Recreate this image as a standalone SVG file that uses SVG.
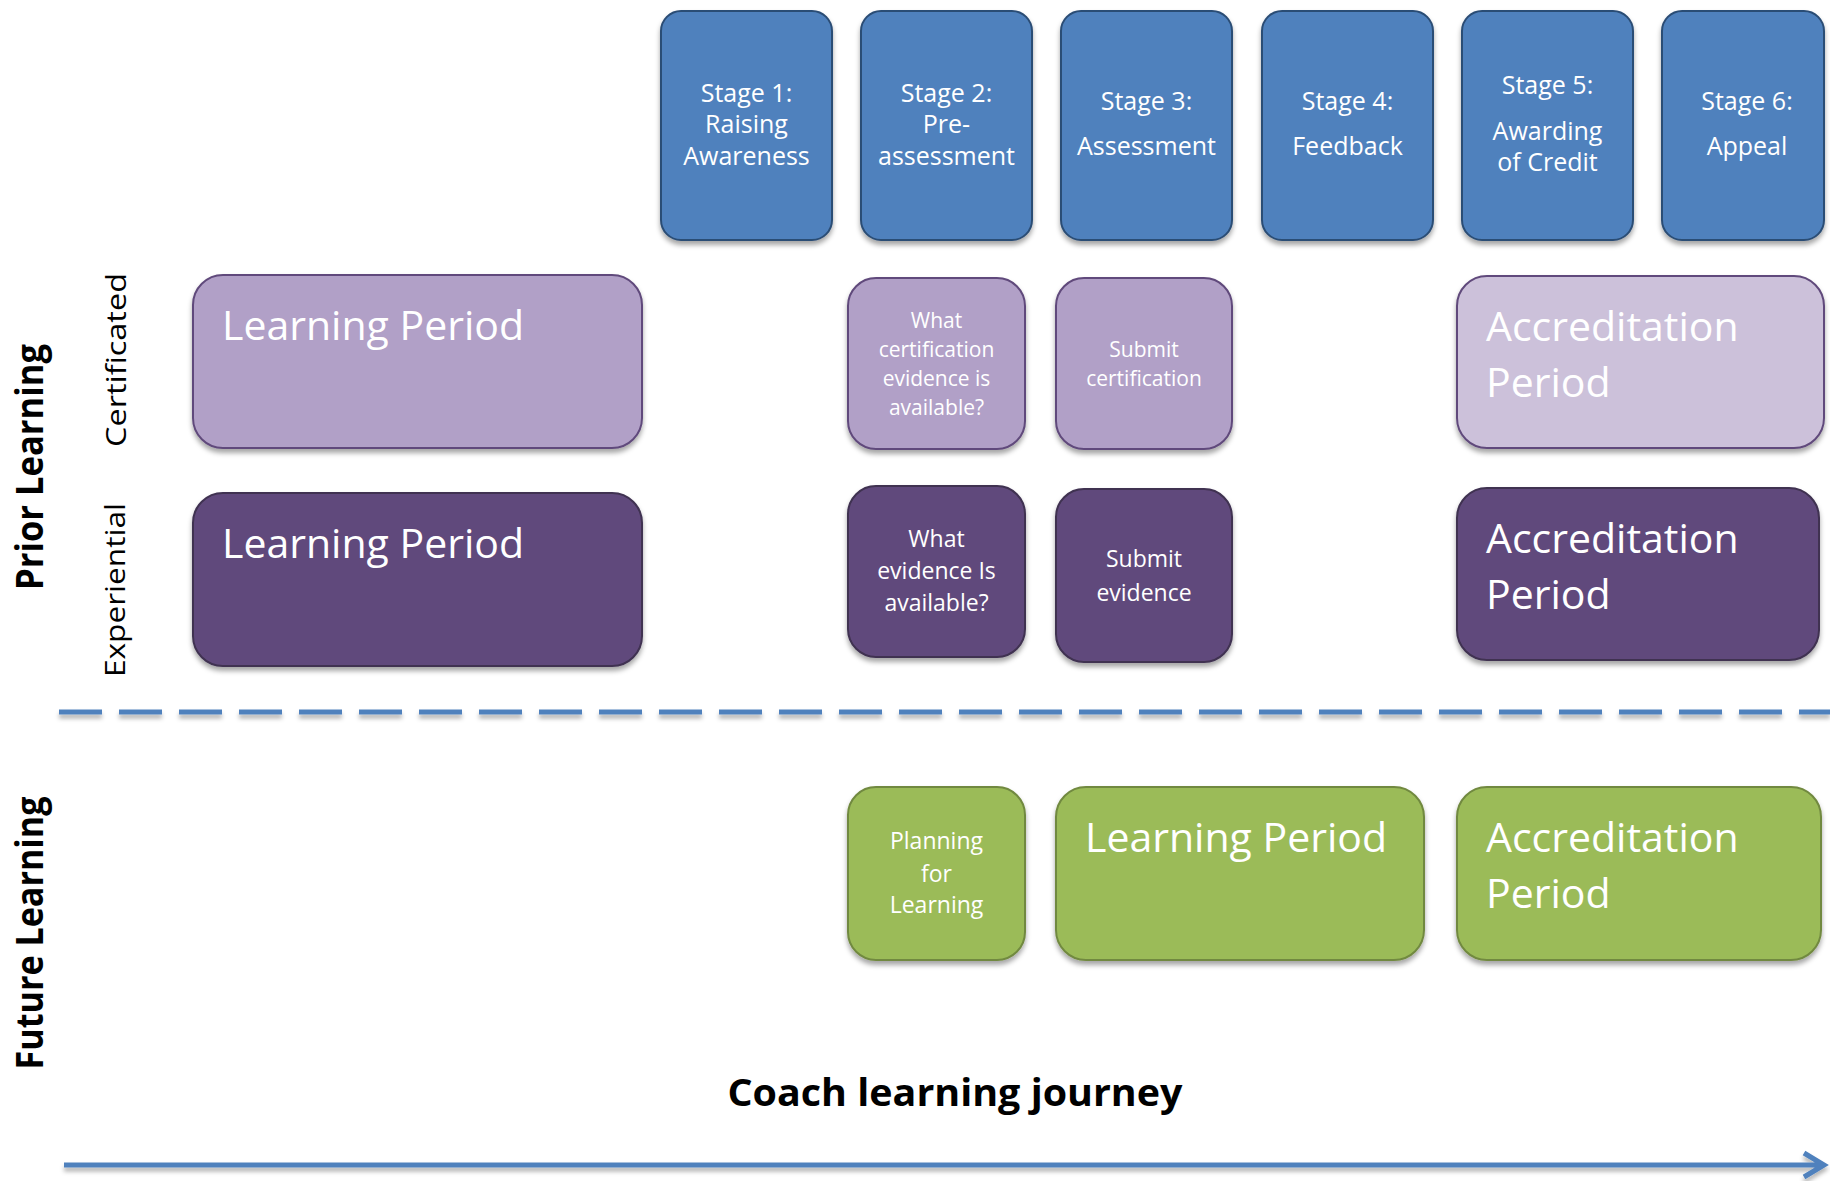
<svg xmlns="http://www.w3.org/2000/svg" width="1830" height="1181" viewBox="0 0 1830 1181">
<defs>
<filter id="sh" x="-10%" y="-10%" width="120%" height="130%">
<feDropShadow dx="0" dy="4" stdDeviation="2.5" flood-color="#000" flood-opacity="0.35"/>
</filter>
<filter id="shl" filterUnits="userSpaceOnUse" x="0" y="0" width="1830" height="1181">
<feDropShadow dx="0" dy="4" stdDeviation="2" flood-color="#000" flood-opacity="0.3"/>
</filter>
<style>
.stage{fill:#4F81BD;stroke:#2C4D75;stroke-width:2;filter:url(#sh)}
.lp{fill:#B1A0C7;stroke:#604A7B;stroke-width:2;filter:url(#sh)}
.lav{fill:#CCC1DA;stroke:#604A7B;stroke-width:2;filter:url(#sh)}
.dp{fill:#604A7B;stroke:#3F3151;stroke-width:2;filter:url(#sh)}
.gr{fill:#9BBB59;stroke:#71893F;stroke-width:2;filter:url(#sh)}
text{font-family:"Open Sans","Noto Sans",sans-serif;fill:#fff}
.st{font-size:25px;text-anchor:middle}
.big{font-size:41px}
.sm{font-size:21px;text-anchor:middle}
.md{font-size:23px;text-anchor:middle}
.lab{fill:#000;font-size:28px}
.bold{fill:#000;font-weight:bold;font-size:37px}
.line{fill:none;stroke:#4F81BD;stroke-width:5;filter:url(#shl)}
</style>
</defs>
<rect width="1830" height="1181" fill="#fff"/>

<g id="connectors">
<line class="line" x1="59" y1="712" x2="1830" y2="712" stroke-dasharray="43 17"/>
<path class="line" d="M64,1165 H1822 M1804,1153 L1824,1165 L1804,1177" stroke-linejoin="miter"/>
</g>

<g id="stage1"><rect class="stage" x="661" y="11" width="171" height="229" rx="20"/>
<text class="st" x="746.5" y="102">Stage 1:</text><text class="st" x="746.5" y="133">Raising</text><text class="st" x="746.5" y="165">Awareness</text></g>
<g id="stage2"><rect class="stage" x="861" y="11" width="171" height="229" rx="20"/>
<text class="st" x="946.5" y="102">Stage 2:</text><text class="st" x="946.5" y="133">Pre-</text><text class="st" x="946.5" y="165">assessment</text></g>
<g id="stage3"><rect class="stage" x="1061" y="11" width="171" height="229" rx="20"/>
<text class="st" x="1146.5" y="110">Stage 3:</text><text class="st" x="1146.5" y="155">Assessment</text></g>
<g id="stage4"><rect class="stage" x="1262" y="11" width="171" height="229" rx="20"/>
<text class="st" x="1347.5" y="110">Stage 4:</text><text class="st" x="1347.5" y="155">Feedback</text></g>
<g id="stage5"><rect class="stage" x="1462" y="11" width="171" height="229" rx="20"/>
<text class="st" x="1547.5" y="94">Stage 5:</text><text class="st" x="1547.5" y="140">Awarding</text><text class="st" x="1547.5" y="171">of Credit</text></g>
<g id="stage6"><rect class="stage" x="1662" y="11" width="162" height="229" rx="20"/>
<text class="st" x="1747" y="110">Stage 6:</text><text class="st" x="1747" y="155">Appeal</text></g>

<g id="label-prior"><text class="bold" transform="translate(43,467) rotate(-90)" text-anchor="middle" textLength="246" lengthAdjust="spacingAndGlyphs">Prior Learning</text></g>
<g id="label-future"><text class="bold" transform="translate(43,933) rotate(-90)" text-anchor="middle" textLength="273" lengthAdjust="spacingAndGlyphs">Future Learning</text></g>
<g id="label-cert"><text class="lab" transform="translate(126,360) rotate(-90)" text-anchor="middle" textLength="174" lengthAdjust="spacingAndGlyphs">Certificated</text></g>
<g id="label-exp"><text class="lab" transform="translate(125,590) rotate(-90)" text-anchor="middle" textLength="174" lengthAdjust="spacingAndGlyphs">Experiential</text></g>

<g id="cert-learning"><rect class="lp" x="193" y="275" width="449" height="173" rx="30"/>
<text class="big" x="222" y="340">Learning Period</text></g>
<g id="cert-what"><rect class="lp" x="848" y="278" width="177" height="171" rx="28"/>
<text class="sm" x="936.5" y="328">What</text><text class="sm" x="936.5" y="357">certification</text><text class="sm" x="936.5" y="386">evidence is</text><text class="sm" x="936.5" y="415">available?</text></g>
<g id="cert-submit"><rect class="lp" x="1056" y="278" width="176" height="171" rx="28"/>
<text class="sm" x="1144" y="357">Submit</text><text class="sm" x="1144" y="386">certification</text></g>
<g id="cert-accred"><rect class="lav" x="1457" y="276" width="367" height="172" rx="30"/>
<text class="big" x="1486" y="341">Accreditation</text><text class="big" x="1486" y="397">Period</text></g>

<g id="exp-learning"><rect class="dp" x="193" y="493" width="449" height="173" rx="30"/>
<text class="big" x="222" y="558">Learning Period</text></g>
<g id="exp-what"><rect class="dp" x="848" y="486" width="177" height="171" rx="28"/>
<text class="md" x="936.5" y="547">What</text><text class="md" x="936.5" y="579">evidence Is</text><text class="md" x="936.5" y="611">available?</text></g>
<g id="exp-submit"><rect class="dp" x="1056" y="489" width="176" height="173" rx="28"/>
<text class="md" x="1144" y="567">Submit</text><text class="md" x="1144" y="601">evidence</text></g>
<g id="exp-accred"><rect class="dp" x="1457" y="488" width="362" height="172" rx="30"/>
<text class="big" x="1486" y="553">Accreditation</text><text class="big" x="1486" y="609">Period</text></g>

<g id="fut-planning"><rect class="gr" x="848" y="787" width="177" height="173" rx="28"/>
<text class="md" x="936.5" y="849" font-size="22">Planning</text><text class="md" x="936.5" y="882" font-size="22">for</text><text class="md" x="936.5" y="913" font-size="22">Learning</text></g>
<g id="fut-learning"><rect class="gr" x="1056" y="787" width="368" height="173" rx="30"/>
<text class="big" x="1085" y="852">Learning Period</text></g>
<g id="fut-accred"><rect class="gr" x="1457" y="787" width="364" height="173" rx="30"/>
<text class="big" x="1486" y="852">Accreditation</text><text class="big" x="1486" y="908">Period</text></g>

<g id="title"><text class="bold" x="955" y="1106" text-anchor="middle" textLength="455" lengthAdjust="spacingAndGlyphs">Coach learning journey</text></g>
</svg>
